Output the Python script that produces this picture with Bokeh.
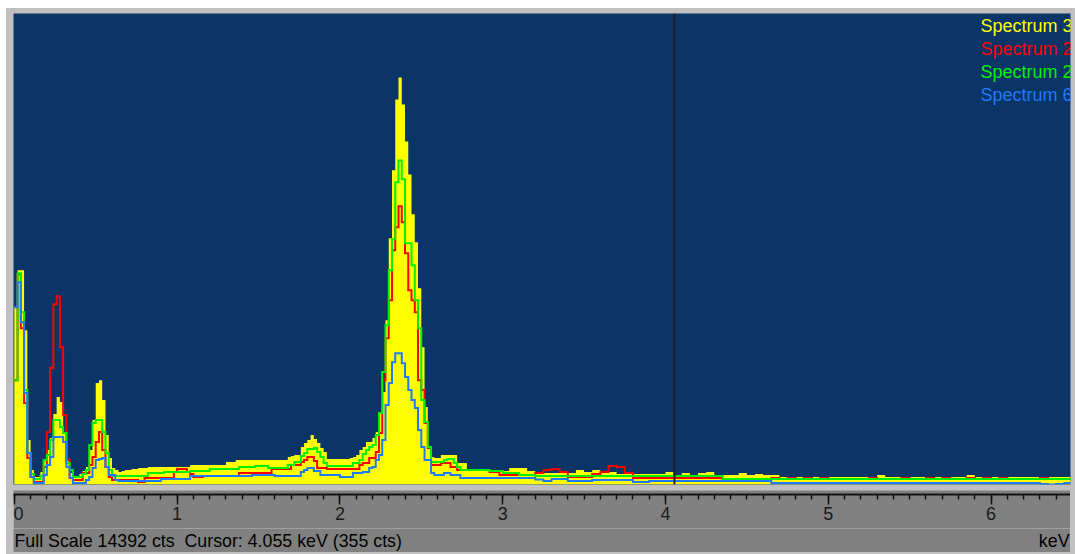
import numpy as np
from bokeh.plotting import figure
from bokeh.layouts import column, row
from bokeh.models import Range1d, Span, Label, LinearAxis, SingleIntervalTicker, Spacer
from bokeh.embed import file_html
from bokeh.resources import INLINE

# ---------------- data ----------------
# energy bin edges (keV): 0.02 keV channels to 3.10 keV, then 0.05 keV bins to 6.50 keV
energy_fine = np.round(np.arange(0, 156) * 0.02, 3)
energy_tail = np.round(3.10 + np.arange(1, 69) * 0.05, 3)
energy_edges = np.concatenate([energy_fine, energy_tail])

series_names = ["Spectrum 3", "Spectrum 2", "Spectrum 2", "Spectrum 6"]
full_scale_cts = 14392
cursor_kev = 4.055
cursor_cts = 355

spectrum3_yellow = [
    5417, 6547, 6547, 4715, 1358, 443, 229, 229, 382, 748,
    1053, 1419, 2152, 2671, 2518, 1602, 748, 351, 229, 229,
    320, 412, 534, 1053, 1969, 3098, 3189, 2579, 1511, 809,
    504, 443, 382, 412, 443, 443, 473, 473, 504, 504,
    504, 534, 534, 534, 534, 534, 534, 534, 534, 534,
    534, 534, 534, 534, 595, 595, 595, 595, 595, 595,
    595, 595, 595, 595, 595, 687, 687, 687, 748, 748,
    748, 748, 748, 748, 748, 748, 748, 748, 748, 748,
    748, 748, 748, 748, 839, 870, 900, 900, 1145, 1267,
    1358, 1511, 1389, 1267, 1114, 992, 778, 778, 778, 778,
    778, 778, 778, 809, 839, 900, 1053, 1145, 1297, 1297,
    1419, 1602, 2182, 2823, 5021, 7523, 9599, 11765, 12437, 11613,
    10484, 9476, 8256, 7401, 5997, 4197, 2365, 1145, 839, 809,
    809, 900, 900, 900, 900, 900, 656, 656, 656, 443,
    443, 443, 443, 443, 443, 443, 443, 443, 443, 412,
    412, 412, 504, 504, 504,
    504, 412, 351, 351, 351, 351, 351, 443, 382, 443,
    382, 382, 320, 320, 320, 320, 320, 320, 382, 290,
    351, 290, 351, 382, 290, 290, 290, 351, 290, 320,
    290, 290, 229, 229, 229, 229, 229, 229, 229, 229,
    229, 229, 229, 229, 290, 229, 229, 229, 229, 229,
    229, 229, 229, 229, 229, 290, 229, 229, 229, 229,
    229, 229, 229, 229, 229, 229, 229, 229,
]

spectrum2_red = [
    3189, 6424, 4776, 2487, 809, 229, 76, 76, 76, 534,
    1602, 3556, 5509, 5753, 4197, 2121, 748, 198, 137, 137,
    137, 351, 351, 595, 839, 1297, 1602, 1053, 534, 229,
    137, 137, 137, 137, 137, 137, 137, 137, 76, 76,
    198, 198, 198, 198, 198, 198, 198, 198, 198, 382,
    473, 473, 473, 382, 320, 229, 229, 229, 259, 259,
    259, 259, 259, 259, 259, 259, 259, 259, 259, 351,
    351, 351, 351, 351, 351, 351, 351, 351, 351, 473,
    473, 473, 473, 473, 473, 595, 595, 595, 687, 748,
    839, 839, 717, 504, 504, 504, 473, 473, 473, 473,
    473, 473, 473, 473, 473, 473, 595, 656, 656, 809,
    809, 992, 1572, 3189, 4471, 5631, 7157, 7859, 8500, 8012,
    7065, 5936, 5631, 5265, 3189, 2884, 1877, 1114, 595, 595,
    595, 656, 656, 656, 534, 534, 443, 443, 443, 443,
    443, 443, 443, 443, 443, 443, 382, 382, 382, 290,
    290, 290, 290, 290, 290,
    290, 290, 351, 443, 473, 382, 229, 229, 229, 320,
    382, 565, 534, 351, 198, 198, 198, 198, 198, 198,
    198, 198, 198, 198, 198, 168, 168, 168, 168, 168,
    168, 198, 168, 198, 168, 198, 168, 198, 168, 168,
    168, 168, 168, 198, 168, 168, 168, 198, 168, 168,
    198, 168, 198, 168, 168, 198, 168, 198, 168, 198,
    168, 168, 168, 168, 198, 168, 168, 168,
]

spectrum2_green = [
    3189, 6455, 5265, 2884, 961, 320, 168, 168, 259, 748,
    900, 1358, 1969, 1969, 1755, 1572, 656, 443, 229, 229,
    229, 320, 443, 1206, 1877, 1969, 1969, 1602, 961, 443,
    259, 259, 259, 259, 259, 259, 259, 259, 259, 259,
    259, 351, 351, 351, 351, 351, 382, 382, 382, 382,
    382, 382, 382, 382, 412, 412, 412, 412, 412, 412,
    473, 473, 473, 473, 473, 473, 473, 473, 473, 534,
    534, 534, 534, 534, 565, 565, 565, 565, 504, 504,
    504, 504, 504, 504, 595, 595, 687, 687, 870, 961,
    1083, 1083, 1114, 992, 839, 656, 565, 565, 565, 565,
    565, 565, 565, 565, 656, 656, 748, 931, 1053, 1145,
    1206, 1511, 2182, 3434, 4868, 6547, 7493, 9232, 9904, 9324,
    7371, 7371, 6699, 5631, 4776, 2579, 1908, 1145, 687, 687,
    687, 687, 748, 778, 778, 656, 534, 443, 443, 443,
    443, 443, 443, 443, 443, 443, 412, 412, 412, 412,
    351, 351, 351, 351, 351,
    290, 290, 259, 259, 259, 259, 259, 259, 259, 259,
    259, 259, 259, 259, 259, 259, 259, 259, 259, 259,
    259, 259, 259, 259, 259, 168, 168, 168, 168, 168,
    168, 168, 168, 168, 168, 168, 168, 168, 168, 168,
    168, 168, 168, 168, 168, 168, 168, 168, 168, 168,
    168, 168, 168, 168, 168, 168, 168, 168, 168, 168,
    168, 168, 168, 168, 168, 168, 168, 168,
]

spectrum6_blue = [
    5417, 6180, 4960, 2793, 961, 229, 46, 46, 46, 290,
    595, 839, 1450, 1450, 1450, 1297, 534, 198, 46, 46,
    46, 46, 137, 229, 504, 748, 778, 809, 534, 290,
    290, 137, 107, 107, 107, 107, 107, 107, 107, 107,
    107, 107, 107, 107, 107, 168, 168, 168, 168, 168,
    168, 168, 168, 168, 259, 259, 259, 259, 259, 259,
    259, 259, 259, 259, 259, 259, 259, 259, 259, 259,
    259, 259, 259, 290, 290, 290, 290, 290, 290, 290,
    259, 259, 259, 259, 259, 259, 259, 259, 382, 443,
    504, 504, 412, 412, 290, 290, 290, 290, 290, 290,
    229, 229, 229, 229, 351, 351, 351, 382, 382, 504,
    534, 748, 900, 1358, 2426, 3098, 3739, 4013, 4013, 3708,
    3281, 2884, 2579, 2335, 1663, 1145, 748, 748, 351, 290,
    290, 290, 351, 351, 290, 290, 290, 198, 198, 198,
    198, 198, 198, 198, 198, 198, 198, 198, 198, 198,
    198, 198, 198, 198, 198,
    198, 198, 153, 107, 168, 168, 107, 107, 107, 137,
    137, 137, 137, 137, 76, 76, 107, 107, 107, 107,
    107, 107, 107, 107, 107, 107, 107, 107, 107, 107,
    107, 46, 46, 46, 46, 46, 46, 46, 46, 46,
    46, 46, 46, 46, 46, 46, 46, 46, 46, 46,
    46, 46, 46, 46, 46, 46, 46, 46, 46, 46,
    46, 46, 46, 46, 15, 0, 15, 46,
]

# ---------------- style ----------------
NAVY = "#0A3566"
LGRAY = "#C0C0C0"
DGRAY = "#808080"
YELLOW = "#FFFF00"
RED = "#FF0000"
GREEN = "#00F000"
BLUE = "#1E7BFF"
FONT = "Liberation Sans"


def step_outline(edges, vals):
    xs = np.column_stack([edges[:-1], edges[1:]]).ravel()
    ys = np.repeat(np.asarray(vals, dtype=float), 2)
    return xs, ys


xr = Range1d(-0.005, 6.488)

# ---------------- spectrum panel ----------------
p = figure(width=1069, height=482, x_range=xr, y_range=Range1d(0, full_scale_cts),
           output_backend="svg", toolbar_location=None,
           x_axis_location=None, y_axis_location=None,
           min_border_left=7, min_border_right=5, min_border_top=5, min_border_bottom=6,
           background_fill_color=NAVY, border_fill_color=LGRAY, outline_line_color=None)
p.grid.visible = False

xs, ys = step_outline(energy_edges, spectrum3_yellow)
p.patch(np.concatenate([[energy_edges[0]], xs, [energy_edges[-1]]]),
        np.concatenate([[0.0], ys, [0.0]]),
        fill_color=YELLOW, line_color=None)

for vals, col in [(spectrum2_red, RED), (spectrum2_green, GREEN), (spectrum6_blue, BLUE)]:
    lx, ly = step_outline(energy_edges, vals)
    p.line(lx, ly, line_color=col, line_width=2, line_join="miter")

p.add_layout(Span(location=cursor_kev, dimension="height", line_color="#1E1E1E", line_width=2))

legend_colors = [YELLOW, RED, GREEN, BLUE]
for i, (name, col) in enumerate(zip(series_names, legend_colors)):
    p.add_layout(Label(x=1059, y=459 - 23.3 * i, x_units="screen", y_units="screen",
                       text=name, text_align="right", text_baseline="middle",
                       text_color=col, text_font=FONT, text_font_size="18px"))

# ---------------- axis strip ----------------
q = figure(width=1057, height=38, x_range=xr, y_range=Range1d(0, 1),
           output_backend="svg", toolbar_location=None,
           x_axis_location=None, y_axis_location=None,
           min_border_left=0, min_border_right=0, min_border_top=0, min_border_bottom=34,
           background_fill_color=DGRAY, border_fill_color=DGRAY, outline_line_color=None)
q.grid.visible = False

ax = LinearAxis(ticker=SingleIntervalTicker(interval=1, num_minor_ticks=10),
                axis_line_color="#111111", axis_line_width=2,
                major_tick_line_color="#111111", major_tick_line_width=1.5,
                minor_tick_line_color="#111111", minor_tick_line_width=1.5,
                major_tick_out=10, major_tick_in=0, minor_tick_out=5, minor_tick_in=0,
                major_label_standoff=2,
                major_label_text_font=FONT, major_label_text_font_size="18px",
                major_label_text_color="#1A1A1A")
q.add_layout(ax, "below")

# ---------------- status line ----------------
s = figure(width=1057, height=24, x_range=xr, y_range=Range1d(0, 1),
           output_backend="svg", toolbar_location=None,
           x_axis_location=None, y_axis_location=None,
           min_border_left=0, min_border_right=0, min_border_top=0, min_border_bottom=0,
           background_fill_color=DGRAY, border_fill_color=DGRAY, outline_line_color=None)
s.grid.visible = False
status_text = f"Full Scale {full_scale_cts} cts\u00a0 Cursor: {cursor_kev:.3f} keV ({cursor_cts} cts)"
s.add_layout(Label(x=1, y=12, x_units="screen", y_units="screen",
                   text=status_text, text_align="left", text_baseline="middle",
                   text_color="#000000", text_font=FONT, text_font_size="17.8px"))
s.add_layout(Label(x=1056, y=12, x_units="screen", y_units="screen",
                   text="keV", text_align="right", text_baseline="middle",
                   text_color="#000000", text_font=FONT, text_font_size="17.8px"))

root = column(p,
              row(Spacer(width=7, height=38), q, Spacer(width=5, height=38)),
              row(Spacer(width=7, height=24), s, Spacer(width=5, height=24)),
              Spacer(width=1069, height=2),
              styles={"background-color": LGRAY})
root.margin = (8, 0, 0, 6)

open("out.html", "w").write(file_html(root, INLINE))
